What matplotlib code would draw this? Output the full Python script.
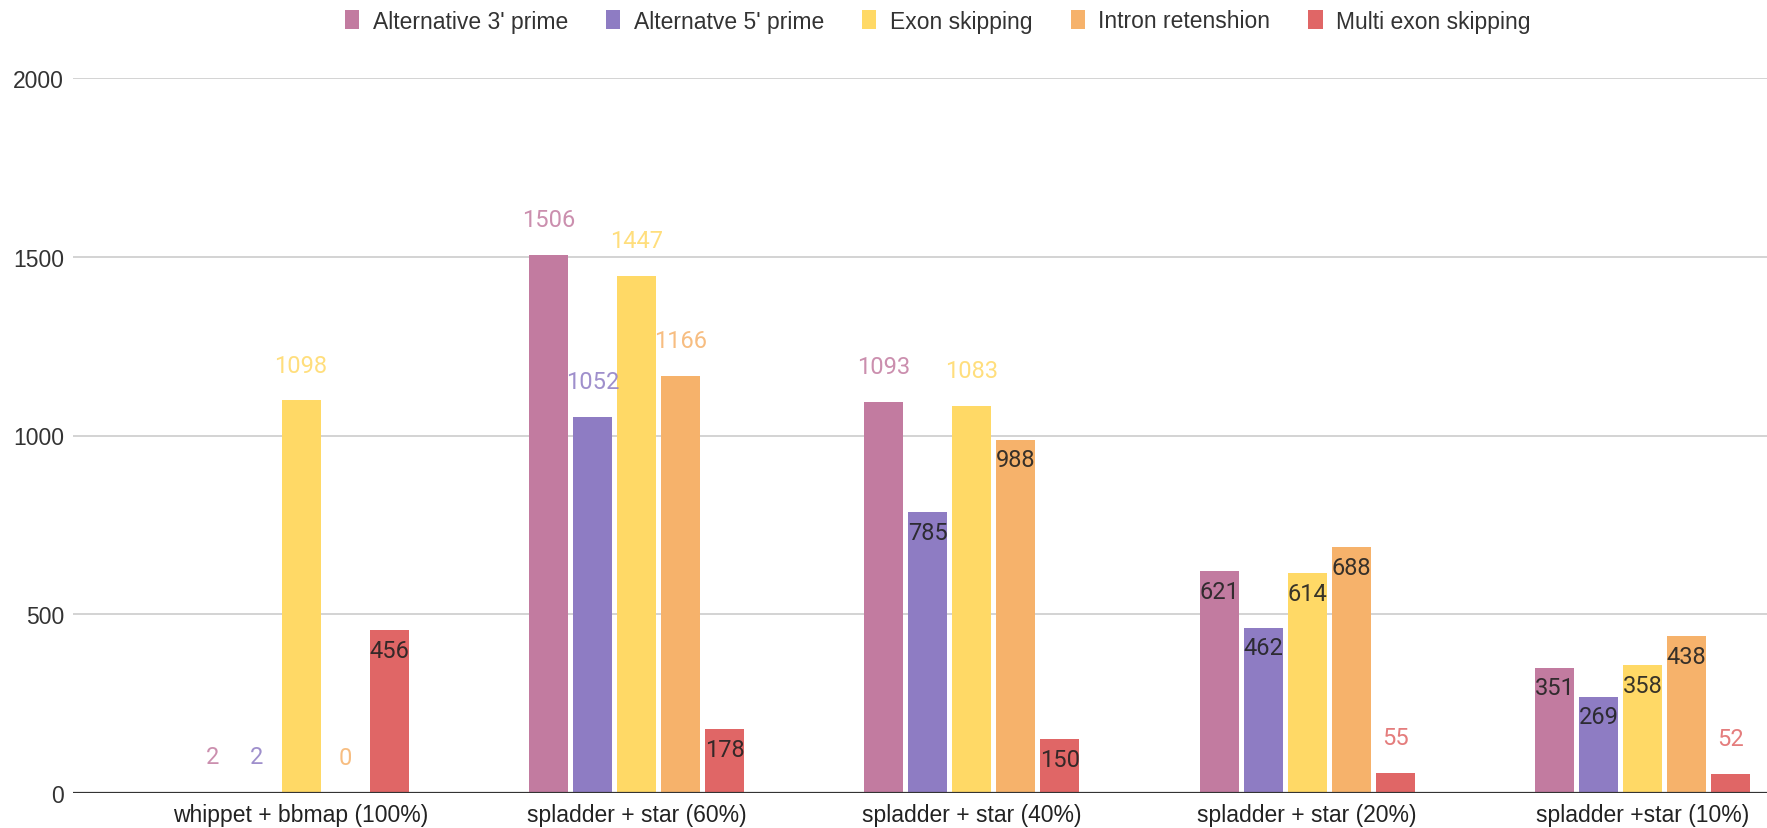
import matplotlib
matplotlib.use('Agg')
import matplotlib.pyplot as plt
import numpy as np
from matplotlib.patches import Patch

categories = ["whippet + bbmap (100%)", "spladder + star (60%)", "spladder + star (40%)",
              "spladder + star (20%)", "spladder +star (10%)"]
series_names = ["Alternative 3' prime", "Alternatve 5' prime", "Exon skipping",
                "Intron retenshion", "Multi exon skipping"]
alt3 = [2, 1506, 1093, 621, 351]
alt5 = [2, 1052, 785, 462, 269]
exon_skip = [1098, 1447, 1083, 614, 358]
intron_ret = [0, 1166, 988, 688, 438]
multi_exon = [456, 178, 150, 55, 52]
yticks = [0, 500, 1000, 1500, 2000]

series = [alt3, alt5, exon_skip, intron_ret, multi_exon]
colors = ['#c27ba0', '#8e7cc3', '#ffd966', '#f6b26b', '#e06666']

# label placement per series/category: True = inside top of bar, False = above bar
inside = [
    [False, False, False, True, True],
    [False, False, True, True, True],
    [False, False, False, True, True],
    [False, False, True, True, True],
    [True, True, True, False, False],
]

W, H = 1767, 829
fig = plt.figure(figsize=(W / 100, H / 100), dpi=100)
ax = fig.add_axes([73 / W, 1 - 794 / H, (W - 73) / W, 715 / H])

x = np.arange(len(categories))
pitch = 0.1312
bw = 0.1163
for i, (vals, col) in enumerate(zip(series, colors)):
    xs = x + (i - 2) * pitch
    ax.bar(xs, vals, width=bw, color=col, zorder=3, label=series_names[i])
    for j, (xx, v) in enumerate(zip(xs, vals)):
        if inside[i][j]:
            ax.annotate(str(v), (xx, v), xytext=(0, -14.5), textcoords='offset points',
                        ha='center', va='center', fontsize=17, family='Roboto',
                        color='#222222', alpha=0.9, zorder=5)
        else:
            ax.annotate(str(v), (xx, v), xytext=(0, 25.5), textcoords='offset points',
                        ha='center', va='center', fontsize=17, family='Roboto',
                        color=col, alpha=0.85, zorder=5)

ax.set_xlim(-0.680, 4.371)
ax.set_ylim(0, 2000)
ax.set_yticks(yticks)
ax.set_yticklabels([str(t) for t in yticks], family='Liberation Sans', fontsize=16.5, color='#333333')
ax.set_xticks(x)
ax.set_xticklabels(categories, family='Liberation Sans', fontsize=16.5, color='#222222')
ax.tick_params(axis='y', length=0, pad=6.5)
ax.tick_params(axis='x', length=0, pad=7.5)
for s in ax.spines.values():
    s.set_visible(False)
ax.yaxis.grid(True, color='#cccccc', lw=1.2, zorder=0)
ax.set_axisbelow(True)
ax.axhline(0, color='#333333', lw=1.6, zorder=4)

handles = [Patch(facecolor=c, edgecolor='none') for c in colors]
fig.legend(handles, series_names, loc='center', bbox_to_anchor=(938 / W, 1 - 22 / H),
           ncol=5, frameon=False, prop={'family': 'Liberation Sans', 'size': 16.5},
           handlelength=0.62, handleheight=0.9, handletextpad=0.6, columnspacing=1.65,
           labelcolor='#333333')

fig.savefig('out.png', dpi=100, facecolor='white')
